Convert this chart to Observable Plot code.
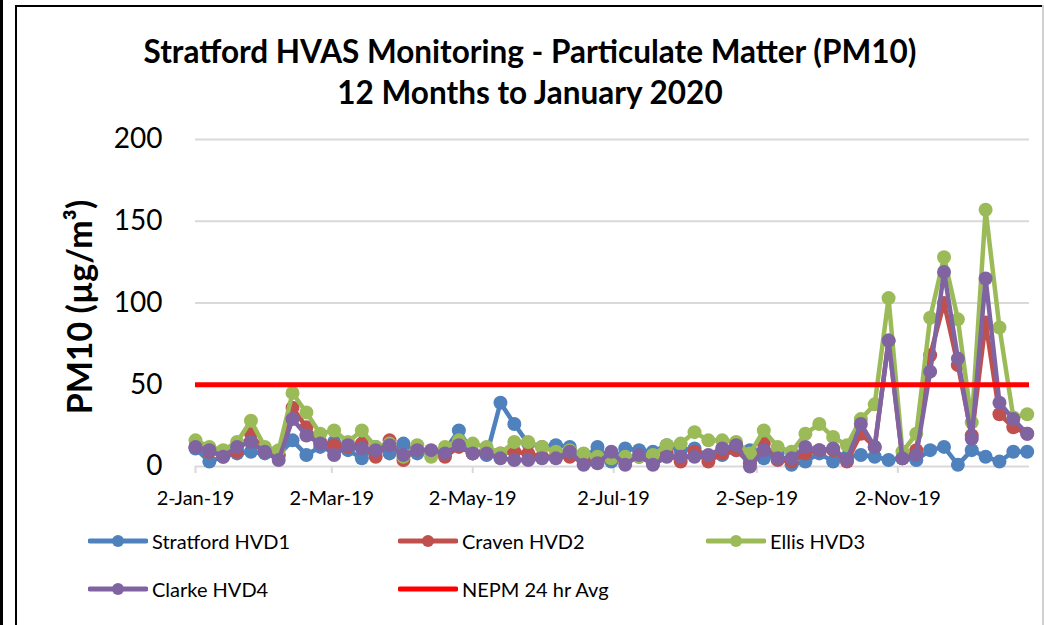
<!DOCTYPE html>
<html><head><meta charset="utf-8">
<script src="https://cdn.jsdelivr.net/npm/d3@7"></script>
<script src="https://cdn.jsdelivr.net/npm/@observablehq/plot@0.6"></script>
<style>
body{margin:0;background:#fff;}
#wrap{position:relative;width:1044px;height:625px;overflow:hidden;font-family:Lato,"Open Sans",sans-serif;color:#000;background:#fff;}
.bl{position:absolute;background:#000;}
#title{position:absolute;left:17px;width:1026px;top:31px;text-align:center;font-weight:bold;font-size:31.5px;line-height:41px;}
#ytitle{position:absolute;left:78px;top:307px;transform:translate(-50%,-50%) rotate(-90deg);font-weight:bold;font-size:34px;white-space:nowrap;}
#chart{position:absolute;left:0;top:120px;}
.leg{position:absolute;display:flex;align-items:center;font-size:20px;white-space:nowrap;}
.leg svg{margin-right:4px;}
</style></head><body>
<div id="wrap">
  <div class="bl" style="left:0;top:0;width:3px;height:625px;"></div>
  <div class="bl" style="left:15px;top:5px;width:2px;height:620px;"></div>
  <div class="bl" style="left:15px;top:5px;width:1029px;height:2px;"></div>
  <div style="position:absolute;left:1042px;top:5px;width:2px;height:620px;background:#d0d0d0;"></div>
  <div id="title">Stratford HVAS Monitoring - Particulate Matter (PM10)<br>12 Months to January 2020</div>
  <div id="ytitle">PM10 (µg/m³)</div>
  <div id="chart"></div>
  <div id="legend"></div>
</div>
<script>
const dates = ["2019-01-02","2019-01-08","2019-01-14","2019-01-20","2019-01-26","2019-02-01","2019-02-07","2019-02-13","2019-02-19","2019-02-25",
"2019-03-03","2019-03-09","2019-03-15","2019-03-21","2019-03-27","2019-04-02","2019-04-08","2019-04-14","2019-04-20","2019-04-26",
"2019-05-02","2019-05-08","2019-05-14","2019-05-20","2019-05-26","2019-06-01","2019-06-07","2019-06-13","2019-06-19","2019-06-25",
"2019-07-01","2019-07-07","2019-07-13","2019-07-19","2019-07-25","2019-07-31","2019-08-06","2019-08-12","2019-08-18","2019-08-24",
"2019-08-30","2019-09-05","2019-09-11","2019-09-17","2019-09-23","2019-09-29","2019-10-05","2019-10-11","2019-10-17","2019-10-23",
"2019-10-29","2019-11-04","2019-11-10","2019-11-16","2019-11-22","2019-11-28","2019-12-04","2019-12-10","2019-12-16","2019-12-22","2019-12-28"];

const stratfordHVD1 = [11,3,6,8,9,8,7,16,7,12, 15,10,5,12,8,14,8,9,10,22, 8,7,39,26,14,12,13,12,5,12, 3,11,10,9,13,10,11,6,7,10, 10,5,8,1,3,8,3,6,7,6, 4,5,4,10,12,1,10,6,3,9,9];
const cravenHVD2    = [12,9,7,9,20,9,7,36,24,15, 13,12,14,6,16,4,11,9,6,12, 8,10,8,9,8,6,6,6,3,3, 6,3,6,2,8,3,9,3,8,10, 2,14,4,3,8,10,10,3,20,12, 77,5,10,68,100,62,19,88,32,24,20];
const ellisHVD3     = [16,12,10,15,28,12,10,45,33,20, 22,15,22,12,14,6,13,6,12,16, 14,12,8,15,15,12,9,10,8,6, 5,6,6,7,13,14,21,16,16,15, 8,22,12,9,20,26,18,13,29,38, 103,9,20,91,128,90,27,157,85,30,32];
const clarkeHVD4    = [12,10,6,12,15,9,4,29,19,14, 7,13,11,10,13,7,10,10,8,13, 8,8,5,4,4,5,5,9,1,2, 9,1,7,1,6,6,6,7,11,13, 0,10,5,5,12,10,11,4,26,12, 77,5,7,58,119,66,17,115,39,29,20];
const nepm24hrAvg = [50];

const seriesNames = ["Stratford HVD1","Craven HVD2","Ellis HVD3","Clarke HVD4"];
const seriesColors = ["#4f81bd","#c0504d","#9bbb59","#8064a2"];
const nepmName = "NEPM 24 hr Avg";
const nepmColor = "#ff0000";
const yTicks = [0,50,100,150,200];
const xTickDates = ["2019-01-02","2019-03-02","2019-05-02","2019-07-02","2019-09-02","2019-11-02"];
const xDomain = ["2019-01-02","2019-12-29"];

const parse = d3.utcParse("%Y-%m-%d");
const fmt = d3.utcFormat("%-d-%b-%y");
const allSeries = [stratfordHVD1, cravenHVD2, ellisHVD3, clarkeHVD4];

const marks = [
  Plot.ruleY(yTicks.filter(d => d > 0), {stroke: "#d9d9d9", strokeWidth: 2}),
  Plot.ruleY([0], {stroke: "#d9d9d9", strokeWidth: 2}),
  Plot.axisX({ticks: xTickDates.map(parse), tickFormat: fmt, tickSize: 7, tickPadding: 17, stroke: "#d9d9d9", strokeWidth: 2, fontSize: 20, fill: "#000", label: null}),
  Plot.axisY({ticks: yTicks, tickSize: 0, tickPadding: 33, fontSize: 28, fill: "#000", label: null})
];
allSeries.forEach((vals, i) => {
  const data = vals.map((v, j) => ({date: parse(dates[j]), value: v}));
  marks.push(Plot.line(data, {x: "date", y: "value", stroke: seriesColors[i], strokeWidth: 4.5}));
  marks.push(Plot.dot(data, {x: "date", y: "value", fill: seriesColors[i], r: 7}));
});
marks.push(Plot.ruleY(nepm24hrAvg, {stroke: nepmColor, strokeWidth: 5}));

const chart = Plot.plot({
  width: 1044, height: 404,
  marginLeft: 195, marginRight: 15, marginTop: 19, marginBottom: 58,
  style: {fontFamily: "Lato, 'Open Sans', sans-serif", background: "transparent", color: "#000", overflow: "visible"},
  x: {type: "utc", domain: xDomain.map(parse)},
  y: {domain: [0, 200]},
  marks
});
document.getElementById("chart").appendChild(chart);

// legend
const legendItems = seriesNames.map((n, i) => ({name: n, color: seriesColors[i], marker: true}))
  .concat([{name: nepmName, color: nepmColor, marker: false}]);
const legendPos = [[88,541],[398,541],[706,541],[88,589],[398,589]];
const legend = document.getElementById("legend");
legendItems.forEach((it, i) => {
  const div = document.createElement("div");
  div.className = "leg";
  div.style.left = legendPos[i][0] + "px";
  div.style.top = (legendPos[i][1] - 14) + "px";
  div.style.height = "28px";
  div.innerHTML = `<svg width="60" height="16"><line x1="2" x2="58" y1="8" y2="8" stroke="${it.color}" stroke-width="5" stroke-linecap="round"/>` +
    (it.marker ? `<circle cx="30" cy="8" r="6" fill="${it.color}"/>` : "") + `</svg><span>${it.name}</span>`;
  legend.appendChild(div);
});
</script>
</body></html>
